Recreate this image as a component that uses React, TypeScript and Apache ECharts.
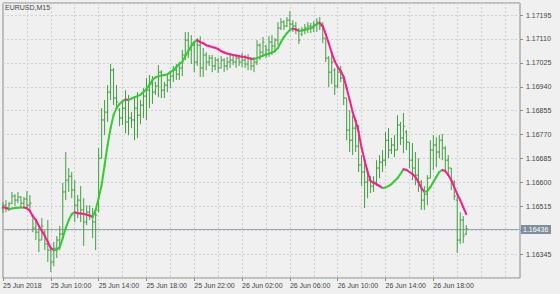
import React, { useEffect, useRef } from "react";
import * as echarts from "echarts";

const symbolTitle = "EURUSD,M15";

const xTickIndex = [0, 16, 32, 48, 64, 80, 96, 112, 128, 144];
const xTickLabels = [
  "25 Jun 2018", "25 Jun 10:00", "25 Jun 14:00", "25 Jun 18:00", "25 Jun 22:00",
  "26 Jun 02:00", "26 Jun 06:00", "26 Jun 10:00", "26 Jun 14:00", "26 Jun 18:00",
];
const slotCount = 174;

const opens = [
  1.16509, 1.16519, 1.16509, 1.16526, 1.16551, 1.16537, 1.16548, 1.16526, 1.16541, 1.16519,
  1.16480, 1.16438, 1.16423, 1.16395, 1.16423, 1.16381, 1.16359, 1.16317, 1.16366, 1.16395,
  1.16416, 1.16566, 1.16608, 1.16622, 1.16573, 1.16519, 1.16537, 1.16502, 1.16459, 1.16494,
  1.16480, 1.16459, 1.16502, 1.16686, 1.16822, 1.16850, 1.16921, 1.16999, 1.16900, 1.16857,
  1.16829, 1.16864, 1.16815, 1.16829, 1.16822, 1.16864, 1.16839, 1.16875, 1.16907, 1.16928,
  1.16950, 1.16921, 1.16943, 1.16992, 1.16928, 1.16946, 1.16964, 1.16978, 1.16999, 1.16985,
  1.17007, 1.17053, 1.17106, 1.17071, 1.17088, 1.17028, 1.17088, 1.17007, 1.17053, 1.17028,
  1.17042, 1.17014, 1.17035, 1.17007, 1.17035, 1.17014, 1.17028, 1.17035, 1.17028, 1.17042,
  1.17028, 1.17035, 1.17021, 1.17042, 1.17014, 1.17028, 1.17088, 1.17063, 1.17085, 1.17071,
  1.17099, 1.17085, 1.17106, 1.17149, 1.17170, 1.17156, 1.17177, 1.17163, 1.17156, 1.17142,
  1.17127, 1.17142, 1.17149, 1.17156, 1.17149, 1.17159, 1.17170, 1.17156, 1.17113, 1.17042,
  1.16992, 1.16999, 1.16943, 1.16992, 1.16971, 1.16900, 1.16786, 1.16750, 1.16793, 1.16729,
  1.16662, 1.16637, 1.16601, 1.16608, 1.16587, 1.16601, 1.16651, 1.16672, 1.16679, 1.16750,
  1.16715, 1.16733, 1.16715, 1.16804, 1.16758, 1.16779, 1.16743, 1.16679, 1.16651, 1.16626,
  1.16601, 1.16537, 1.16558, 1.16615, 1.16715, 1.16733, 1.16708, 1.16750, 1.16722, 1.16679,
  1.16651, 1.16601, 1.16537, 1.16395, 1.16466, 1.16416,
];
const highs = [
  1.16530, 1.16537, 1.16530, 1.16566, 1.16558, 1.16566, 1.16551, 1.16548, 1.16569, 1.16555,
  1.16487, 1.16466, 1.16438, 1.16473, 1.16430, 1.16466, 1.16370, 1.16388, 1.16409, 1.16445,
  1.16598, 1.16708, 1.16651, 1.16637, 1.16608, 1.16555, 1.16587, 1.16544, 1.16519, 1.16519,
  1.16509, 1.16502, 1.16722, 1.16864, 1.16893, 1.16946, 1.17021, 1.17007, 1.16946, 1.16864,
  1.16893, 1.16928, 1.16911, 1.16850, 1.16907, 1.16921, 1.16893, 1.16935, 1.16971, 1.16982,
  1.16978, 1.16957, 1.17017, 1.16999, 1.16957, 1.16982, 1.16992, 1.17014, 1.17021, 1.17028,
  1.17071, 1.17135, 1.17135, 1.17124, 1.17099, 1.17113, 1.17120, 1.17078, 1.17063, 1.17053,
  1.17053, 1.17046, 1.17042, 1.17049, 1.17042, 1.17046, 1.17053, 1.17053, 1.17049, 1.17053,
  1.17060, 1.17053, 1.17056, 1.17042, 1.17046, 1.17106, 1.17095, 1.17117, 1.17088, 1.17120,
  1.17124, 1.17113, 1.17170, 1.17184, 1.17177, 1.17188, 1.17209, 1.17177, 1.17170, 1.17149,
  1.17152, 1.17163, 1.17170, 1.17167, 1.17174, 1.17184, 1.17188, 1.17170, 1.17113, 1.17049,
  1.17056, 1.17007, 1.17014, 1.17014, 1.16978, 1.16900, 1.16857, 1.16839, 1.16829, 1.16804,
  1.16697, 1.16669, 1.16651, 1.16622, 1.16622, 1.16679, 1.16697, 1.16715, 1.16779, 1.16793,
  1.16758, 1.16768, 1.16839, 1.16815, 1.16847, 1.16786, 1.16743, 1.16740, 1.16708, 1.16686,
  1.16608, 1.16587, 1.16626, 1.16750, 1.16768, 1.16761, 1.16768, 1.16772, 1.16729, 1.16697,
  1.16651, 1.16608, 1.16551, 1.16494, 1.16480, 1.16448,
];
const lows = [
  1.16491, 1.16494, 1.16498, 1.16523, 1.16516, 1.16526, 1.16509, 1.16516, 1.16505, 1.16502,
  1.16423, 1.16395, 1.16352, 1.16395, 1.16359, 1.16317, 1.16281, 1.16302, 1.16331, 1.16359,
  1.16402, 1.16537, 1.16566, 1.16544, 1.16459, 1.16473, 1.16459, 1.16374, 1.16448, 1.16466,
  1.16402, 1.16359, 1.16494, 1.16686, 1.16768, 1.16815, 1.16893, 1.16875, 1.16864, 1.16800,
  1.16804, 1.16775, 1.16768, 1.16793, 1.16750, 1.16758, 1.16807, 1.16829, 1.16822, 1.16864,
  1.16879, 1.16911, 1.16903, 1.16900, 1.16900, 1.16921, 1.16935, 1.16957, 1.16964, 1.16964,
  1.16978, 1.17035, 1.17042, 1.17021, 1.16992, 1.17014, 1.16975, 1.16975, 1.16999, 1.17014,
  1.16992, 1.16999, 1.16989, 1.17007, 1.16992, 1.16999, 1.17007, 1.17017, 1.17007, 1.17014,
  1.17010, 1.17007, 1.16999, 1.16999, 1.16992, 1.17017, 1.17035, 1.17049, 1.17042, 1.17046,
  1.17053, 1.17063, 1.17088, 1.17142, 1.17142, 1.17152, 1.17142, 1.17135, 1.17127, 1.17092,
  1.17120, 1.17127, 1.17131, 1.17131, 1.17135, 1.17135, 1.17142, 1.17095, 1.17028, 1.16939,
  1.16950, 1.16911, 1.16935, 1.16957, 1.16875, 1.16750, 1.16708, 1.16697, 1.16708, 1.16637,
  1.16587, 1.16509, 1.16544, 1.16562, 1.16566, 1.16587, 1.16615, 1.16637, 1.16658, 1.16686,
  1.16701, 1.16690, 1.16715, 1.16733, 1.16704, 1.16715, 1.16651, 1.16608, 1.16590, 1.16566,
  1.16502, 1.16502, 1.16519, 1.16615, 1.16644, 1.16654, 1.16686, 1.16679, 1.16644, 1.16626,
  1.16573, 1.16537, 1.16349, 1.16381, 1.16384, 1.16413,
];
const closes = [
  1.16519, 1.16509, 1.16523, 1.16551, 1.16537, 1.16548, 1.16526, 1.16541, 1.16519, 1.16526,
  1.16438, 1.16423, 1.16395, 1.16445, 1.16381, 1.16359, 1.16317, 1.16366, 1.16395, 1.16416,
  1.16566, 1.16608, 1.16622, 1.16573, 1.16519, 1.16537, 1.16502, 1.16459, 1.16494, 1.16480,
  1.16459, 1.16484, 1.16686, 1.16822, 1.16850, 1.16921, 1.16999, 1.16900, 1.16886, 1.16829,
  1.16864, 1.16815, 1.16829, 1.16822, 1.16864, 1.16839, 1.16875, 1.16907, 1.16928, 1.16950,
  1.16921, 1.16943, 1.16992, 1.16928, 1.16946, 1.16964, 1.16978, 1.16999, 1.16985, 1.17007,
  1.17053, 1.17106, 1.17071, 1.17088, 1.17028, 1.17088, 1.17007, 1.17053, 1.17028, 1.17042,
  1.17014, 1.17035, 1.17007, 1.17035, 1.17014, 1.17028, 1.17035, 1.17028, 1.17042, 1.17028,
  1.17035, 1.17021, 1.17042, 1.17014, 1.17028, 1.17088, 1.17063, 1.17099, 1.17071, 1.17099,
  1.17085, 1.17106, 1.17149, 1.17170, 1.17156, 1.17177, 1.17163, 1.17156, 1.17142, 1.17106,
  1.17142, 1.17149, 1.17156, 1.17149, 1.17159, 1.17170, 1.17156, 1.17113, 1.17042, 1.16992,
  1.17028, 1.16943, 1.16992, 1.16971, 1.16900, 1.16786, 1.16750, 1.16793, 1.16729, 1.16662,
  1.16637, 1.16601, 1.16608, 1.16587, 1.16601, 1.16651, 1.16672, 1.16679, 1.16750, 1.16715,
  1.16733, 1.16715, 1.16804, 1.16758, 1.16800, 1.16743, 1.16679, 1.16651, 1.16626, 1.16601,
  1.16537, 1.16558, 1.16615, 1.16715, 1.16733, 1.16708, 1.16750, 1.16722, 1.16679, 1.16651,
  1.16601, 1.16551, 1.16395, 1.16466, 1.16409, 1.16436,
];
const maValues = [
  1.16512, 1.16509, 1.16505, 1.16507, 1.16509, 1.16510, 1.16511, 1.16511, 1.16508, 1.16498,
  1.16480, 1.16466, 1.16445, 1.16427, 1.16409, 1.16388, 1.16366, 1.16359, 1.16361, 1.16370,
  1.16402, 1.16438, 1.16466, 1.16487, 1.16494, 1.16490, 1.16489, 1.16488, 1.16485, 1.16482,
  1.16477, 1.16502, 1.16544, 1.16590, 1.16661, 1.16733, 1.16793, 1.16839, 1.16864, 1.16879,
  1.16889, 1.16895, 1.16893, 1.16898, 1.16903, 1.16907, 1.16912, 1.16921, 1.16932, 1.16946,
  1.16964, 1.16973, 1.16978, 1.16980, 1.16982, 1.16984, 1.16992, 1.16999, 1.17010, 1.17021,
  1.17028, 1.17049, 1.17067, 1.17085, 1.17099, 1.17106, 1.17099, 1.17095, 1.17088, 1.17085,
  1.17081, 1.17079, 1.17074, 1.17067, 1.17062, 1.17058, 1.17056, 1.17053, 1.17051, 1.17049,
  1.17047, 1.17046, 1.17042, 1.17040, 1.17039, 1.17042, 1.17046, 1.17051, 1.17055, 1.17058,
  1.17062, 1.17067, 1.17078, 1.17099, 1.17117, 1.17131, 1.17142, 1.17147, 1.17144, 1.17138,
  1.17140, 1.17142, 1.17145, 1.17149, 1.17156, 1.17163, 1.17167, 1.17156, 1.17127, 1.17095,
  1.17060, 1.17031, 1.17010, 1.16996, 1.16975, 1.16935, 1.16893, 1.16850, 1.16818, 1.16779,
  1.16722, 1.16679, 1.16637, 1.16605, 1.16598, 1.16594, 1.16587, 1.16580, 1.16582, 1.16587,
  1.16594, 1.16605, 1.16615, 1.16630, 1.16647, 1.16644, 1.16637, 1.16630, 1.16619, 1.16601,
  1.16580, 1.16566, 1.16569, 1.16583, 1.16601, 1.16619, 1.16637, 1.16644, 1.16640, 1.16626,
  1.16608, 1.16583, 1.16558, 1.16537, 1.16512, 1.16487,
];

// axis: price shown in points above a base so that ticks fall on 85-point steps
const AXIS_BASE = 1.1626;
const AXIS_TOP = 1.17238;
const TICK_STEP = 85;
const HIDDEN_TICK = 170; // 1.16430, covered by the bid label
const toAxis = (p: number) => Math.round((p - AXIS_BASE) * 1e6) / 10;

const FONT = "'Liberation Sans', Arial, sans-serif";
const BAR_COLOR = "#3f9f3f";
const MA_UP = "#33cc33";
const MA_DOWN = "#ff1a8c";
const GRID_COLOR = "#cfcfcf";
const BG = "#f0f0f0";

export default function App() {
  const ref = useRef<HTMLDivElement>(null);
  useEffect(() => {
    document.body.style.margin = "0";
    document.body.style.background = BG;
    if (!ref.current) return;
    const chart = echarts.init(ref.current, undefined, { renderer: "svg" });

    const cats: string[] = new Array(slotCount).fill("");
    xTickIndex.forEach((idx, k) => (cats[idx] = xTickLabels[k]));
    const isTick = (idx: number) => cats[idx] !== "";

    const barData = opens.map((o, i) => [i, toAxis(o), toAxis(highs[i]), toAxis(lows[i]), toAxis(closes[i])]);
    const maData = maValues.slice(1).map((v, k) => [k + 1, toAxis(v), toAxis(maValues[k])]);
    const bid = closes[closes.length - 1];

    chart.setOption({
      animation: false,
      backgroundColor: BG,
      title: {
        text: symbolTitle,
        left: 5,
        top: 4,
        padding: 0,
        textStyle: { fontSize: 7, fontWeight: "normal", color: "#444", fontFamily: FONT },
      },
      grid: {
        left: 2,
        right: 40,
        top: 3,
        bottom: 16,
        show: true,
        borderColor: "#8a8a8a",
        borderWidth: 1,
        backgroundColor: BG,
      },
      xAxis: {
        type: "category",
        data: cats,
        boundaryGap: false,
        axisLine: { show: false },
        axisTick: {
          show: true,
          interval: (idx: number) => isTick(idx),
          length: 3,
          lineStyle: { color: "#8a8a8a" },
        },
        axisLabel: {
          interval: (idx: number) => isTick(idx),
          align: "left",
          fontSize: 7,
          color: "#444",
          fontFamily: FONT,
          margin: 4,
        },
        splitLine: {
          show: true,
          interval: (idx: number) => idx % 8 === 0 && idx > 0,
          lineStyle: { color: GRID_COLOR, type: [2, 2], width: 1 },
        },
      },
      yAxis: {
        type: "value",
        position: "right",
        min: 0,
        max: toAxis(AXIS_TOP),
        interval: TICK_STEP,
        axisLine: { show: false },
        axisTick: { show: true, length: 3, lineStyle: { color: "#8a8a8a" } },
        axisLabel: {
          showMinLabel: false,
          showMaxLabel: false,
          fontSize: 7,
          color: "#444",
          fontFamily: FONT,
          margin: 6,
          formatter: (v: number) =>
            Math.abs(v - HIDDEN_TICK) < 0.01 ? "" : (AXIS_BASE + v / 1e5).toFixed(5),
        },
        splitLine: { show: true, lineStyle: { color: GRID_COLOR, type: [2, 2], width: 1 } },
      },
      series: [
        {
          type: "custom",
          name: "bid",
          z: 1,
          data: [[0, toAxis(bid)]],
          encode: { x: 0, y: 1 },
          renderItem: (params: any, api: any) => {
            const cs = params.coordSys;
            const y = Math.round(api.coord([0, api.value(1)])[1]) + 0.5;
            const right = cs.x + cs.width;
            return {
              type: "group",
              children: [
                {
                  type: "line",
                  shape: { x1: cs.x, y1: y, x2: right, y2: y },
                  style: { stroke: "#9aa6b3", lineWidth: 1 },
                },
                {
                  type: "rect",
                  shape: { x: right + 1, y: y - 4.5, width: 30, height: 9 },
                  style: { fill: "#7f8d9c" },
                },
                {
                  type: "text",
                  x: right + 3,
                  y: y,
                  style: {
                    text: bid.toFixed(5),
                    fill: "#ffffff",
                    fontSize: 7,
                    fontFamily: FONT,
                    verticalAlign: "middle",
                    align: "left",
                  },
                },
              ],
            };
          },
        },
        {
          type: "custom",
          name: "bars",
          z: 2,
          data: barData,
          encode: { x: 0, y: [1, 2, 3, 4] },
          renderItem: (params: any, api: any) => {
            const i = api.value(0);
            const pO = api.coord([i, api.value(1)]);
            const pH = api.coord([i, api.value(2)]);
            const pL = api.coord([i, api.value(3)]);
            const pC = api.coord([i, api.value(4)]);
            const x = pH[0];
            const st = { stroke: BAR_COLOR, lineWidth: 1 };
            return {
              type: "group",
              children: [
                { type: "line", shape: { x1: x, y1: pH[1], x2: x, y2: pL[1] }, style: st },
                { type: "line", shape: { x1: x - 1.5, y1: pO[1], x2: x, y2: pO[1] }, style: st },
                { type: "line", shape: { x1: x, y1: pC[1], x2: x + 1.5, y2: pC[1] }, style: st },
              ],
            };
          },
        },
        {
          type: "custom",
          name: "ma",
          z: 3,
          data: maData,
          encode: { x: 0, y: [1, 2] },
          renderItem: (params: any, api: any) => {
            const i = api.value(0);
            const cur = api.value(1);
            const prev = api.value(2);
            const a = api.coord([i - 1, prev]);
            const b = api.coord([i, cur]);
            return {
              type: "line",
              shape: { x1: a[0], y1: a[1], x2: b[0], y2: b[1] },
              style: { stroke: cur < prev ? MA_DOWN : MA_UP, lineWidth: 2, lineCap: "round" },
            };
          },
        },
      ],
    });
    return () => chart.dispose();
  }, []);
  return <div ref={ref} style={{ width: 560, height: 294 }} />;
}
